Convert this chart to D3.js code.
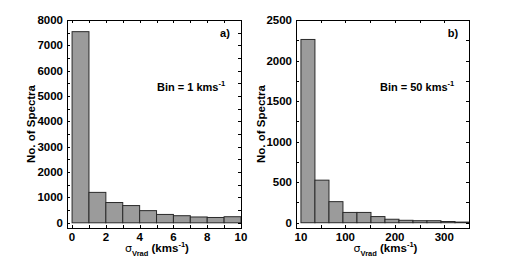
<!DOCTYPE html>
<html>
<head>
<meta charset="utf-8">
<script src="https://cdn.jsdelivr.net/npm/d3@7"></script>
<style>
  body { margin: 0; background: #fff; }
  svg text { font-family: "Liberation Sans", Arial, sans-serif; font-weight: bold; fill: #000; }
</style>
</head>
<body>
<svg id="chart" width="518" height="258"></svg>
<script>
// panel a) : bin edges (km/s) and counts
var edgesA = [0, 1, 2, 3, 4, 5, 6, 7, 8, 9, 10];
var countsA = [7540, 1200, 800, 680, 480, 330, 280, 230, 210, 240];
var xTicksA = [0, 2, 4, 6, 8, 10];
var yTicksA = [0, 1000, 2000, 3000, 4000, 5000, 6000, 7000, 8000];

// panel b)
var edgesB = [10, 38.3, 66.7, 95, 123.3, 151.7, 180, 208.3, 236.7, 265, 293.3, 321.7, 350];
var countsB = [2260, 525, 260, 127, 127, 76, 43, 30, 25, 25, 15, 8];
var xTicksB = [10, 100, 200, 300];
var yTicksB = [0, 500, 1000, 1500, 2000, 2500];

var svg = d3.select("#chart");

function drawPanel(p) {
  var g = svg.append("g");
  var x = d3.scaleLinear().domain(p.xDomain).range([p.left, p.right]);
  var y = d3.scaleLinear().domain(p.yDomain).range([p.bottom, p.top]);

  // bars
  var bins = p.counts.map(function(c, i) { return {x0: p.edges[i], x1: p.edges[i + 1], n: c}; });
  g.selectAll("rect.bar")
    .data(bins)
    .enter()
    .append("rect")
      .attr("class", "bar")
      .attr("x", function(d) { return x(d.x0); })
      .attr("width", function(d) { return x(d.x1) - x(d.x0); })
      .attr("y", function(d) { return y(d.n); })
      .attr("height", function(d) { return y(0) - y(d.n); })
      .attr("fill", "#9b9b9b")
      .attr("stroke", "#2a2a2a")
      .attr("stroke-width", 1);

  // minor ticks on all four sides (inward)
  var minorX = d3.range(p.xDomain[0] < 0 ? 0 : p.xDomain[0], p.xDomain[1] + 1e-9, p.xMinor);
  var minorY = d3.range(0, p.yDomain[1] + 1e-9, p.yMinor);
  var tk = g.append("g").attr("stroke", "#000").attr("stroke-width", 1);
  minorX.forEach(function(v) {
    var px = Math.round(x(v)) + 0.5;
    tk.append("line").attr("x1", px).attr("x2", px).attr("y1", p.bottom).attr("y2", p.bottom - 3);
    tk.append("line").attr("x1", px).attr("x2", px).attr("y1", p.top).attr("y2", p.top + 3);
  });
  minorY.forEach(function(v) {
    var py = Math.round(y(v)) + 0.5;
    tk.append("line").attr("x1", p.left).attr("x2", p.left + 3).attr("y1", py).attr("y2", py);
    tk.append("line").attr("x1", p.right).attr("x2", p.right - 3).attr("y1", py).attr("y2", py);
  });

  // frame
  g.append("rect")
    .attr("x", p.left + 0.5).attr("y", p.top + 0.5)
    .attr("width", p.right - p.left).attr("height", p.bottom - p.top)
    .attr("fill", "none").attr("stroke", "#000").attr("stroke-width", 1);

  // tick labels
  g.selectAll("text.xt")
    .data(p.xTicks)
    .enter()
    .append("text")
      .attr("x", function(d) { return x(d); })
      .attr("y", p.bottom + 13)
      .attr("text-anchor", "middle")
      .attr("font-size", 11.5)
      .text(function(d) { return d; });
  g.selectAll("text.yt")
    .data(p.yTicks)
    .enter()
    .append("text")
      .attr("x", p.left - 4)
      .attr("y", function(d) { return y(d) + 4; })
      .attr("text-anchor", "end")
      .attr("font-size", 11.5)
      .text(function(d) { return d; });

  // axis titles
  g.append("text")
    .attr("transform", "translate(" + p.yTitleX + "," + ((p.top + p.bottom) / 2) + ")rotate(-90)")
    .attr("text-anchor", "middle")
    .attr("font-size", 11.5)
    .text("No. of Spectra");

  var xt = g.append("text")
    .attr("x", (p.left + p.right) / 2 + 3)
    .attr("y", p.bottom + 24)
    .attr("text-anchor", "middle")
    .attr("font-size", 11.5);
  xt.append("tspan").attr("font-weight", "normal").attr("font-family", "DejaVu Sans").attr("font-size", 11).text("σ");
  xt.append("tspan").attr("font-size", 7.5).attr("dy", 3.5).text("Vrad");
  xt.append("tspan").attr("dy", -3.5).text(" (kms");
  xt.append("tspan").attr("font-size", 7.5).attr("dy", -5).text("-1");
  xt.append("tspan").attr("dy", 5).text(")");

  // annotations
  var bt = g.append("text")
    .attr("x", p.binX)
    .attr("y", 91)
    .attr("font-size", 11);
  bt.append("tspan").text(p.binLabel);
  bt.append("tspan").attr("font-size", 7.5).attr("dy", -5).text("-1");

  g.append("text")
    .attr("x", p.right - 16)
    .attr("y", 37)
    .attr("text-anchor", "middle")
    .attr("font-size", 11)
    .text(p.tag);
}

drawPanel({
  edges: edgesA, counts: countsA, xTicks: xTicksA, yTicks: yTicksA,
  xDomain: [-0.3, 10], yDomain: [-205, 8000], xMinor: 1, yMinor: 500,
  left: 67, right: 241, top: 20, bottom: 228,
  yTitleX: 35, binX: 157, binLabel: "Bin = 1 kms", tag: "a)"
});

drawPanel({
  edges: edgesB, counts: countsB, xTicks: xTicksB, yTicks: yTicksB,
  xDomain: [0, 350], yDomain: [-65, 2500], xMinor: 50, yMinor: 250,
  left: 296, right: 469, top: 20, bottom: 228,
  yTitleX: 265, binX: 380, binLabel: "Bin = 50 kms", tag: "b)"
});
</script>
</body>
</html>
